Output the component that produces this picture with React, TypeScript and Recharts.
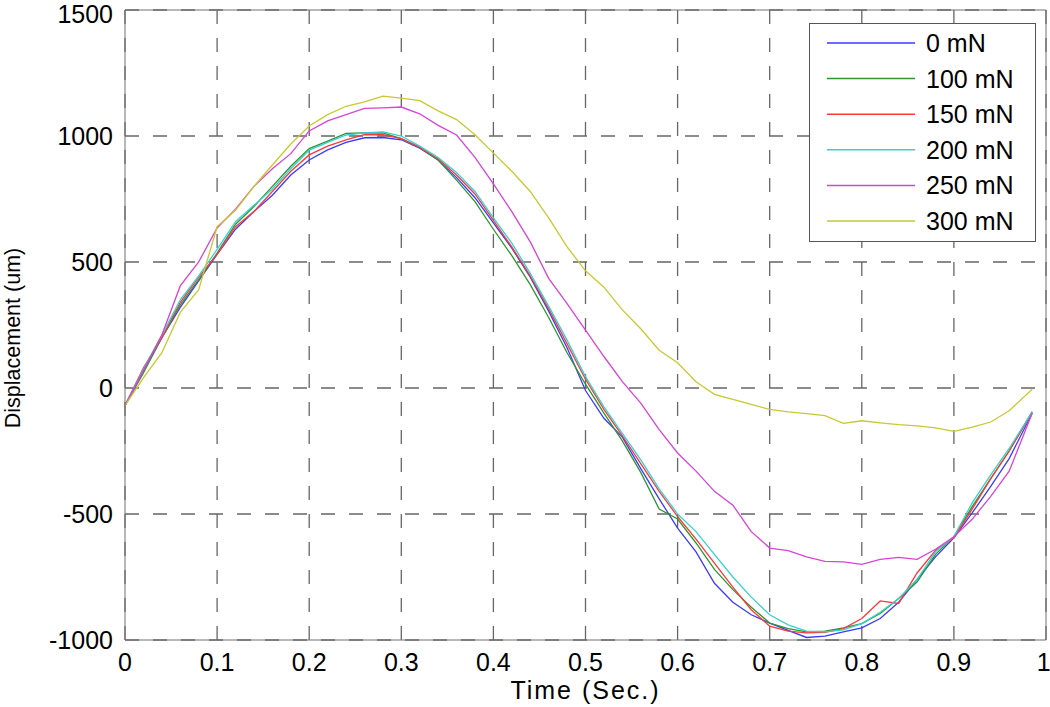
import React from "react";
import {
  LineChart,
  Line,
  XAxis,
  YAxis,
  CartesianGrid,
  ReferenceLine,
  Legend,
} from "recharts";

// sample times (s)
const times = [
  0, 0.02, 0.04, 0.06, 0.08, 0.1, 0.12, 0.14, 0.16, 0.18, 0.2, 0.22, 0.24, 0.26, 0.28, 0.3, 0.32, 0.34, 0.36, 0.38,
  0.4, 0.42, 0.44, 0.46, 0.48, 0.5, 0.52, 0.54, 0.56, 0.58, 0.6, 0.62, 0.64, 0.66, 0.68, 0.7, 0.72, 0.74, 0.76, 0.78,
  0.8, 0.82, 0.84, 0.86, 0.88, 0.9, 0.92, 0.94, 0.96, 0.985,
];

// displacement (um) per load
const d0 = [
  -70, 70, 200, 320, 425, 530, 630, 700, 765, 845, 905, 945, 975, 993, 994, 985, 952, 905, 835, 755,
  655, 555, 440, 305, 160, -10, -120, -195, -320, -440, -556, -650, -775, -850, -900, -933, -962, -990, -985, -968,
  -952, -915, -850, -760, -670, -595, -495, -390, -280, -100,
];
const d100 = [
  -70, 60, 200, 330, 430, 535, 650, 720, 800, 880, 950, 980, 1010, 1012, 1012, 990, 955, 905, 825, 740,
  630, 525, 410, 280, 140, 15, -100, -210, -335, -480, -520, -615, -720, -800, -870, -933, -955, -968, -965, -952,
  -935, -895, -835, -770, -660, -590, -470, -360, -250, -95,
];
const d150 = [
  -70, 80, 200, 340, 440, 530, 640, 700, 780, 860, 925, 960, 985, 1005, 1005, 990, 955, 910, 845, 770,
  665, 560, 445, 315, 175, 35, -85, -190, -300, -410, -510, -600, -695, -790, -880, -945, -965, -972, -970, -955,
  -915, -845, -855, -734, -645, -595, -480, -360, -250, -95,
];
const d200 = [
  -70, 75, 210, 350, 445, 550, 660, 725, 790, 870, 944, 975, 1004, 1012, 1016, 1000, 960, 915, 855, 780,
  675, 575, 455, 325, 190, 45, -75, -180, -285, -400, -500, -570, -660, -750, -830, -900, -940, -965, -968, -960,
  -935, -890, -835, -760, -650, -590, -455, -345, -240, -95,
];
const d250 = [
  -70, 70, 210, 405, 500, 635, 710, 800, 870, 930, 1020, 1060, 1085, 1110, 1112, 1115, 1088, 1042, 1004, 915,
  810, 700, 580, 435, 335, 230, 125, 25, -60, -165, -258, -330, -410, -465, -570, -635, -645, -670, -688, -690,
  -700, -680, -672, -680, -640, -590, -520, -430, -330, -100,
];
const d300 = [
  -70, 40, 140, 300, 390, 640, 705, 800, 885, 968, 1040, 1085, 1118, 1135, 1158, 1150, 1140, 1100, 1065, 1005,
  932, 860, 780, 675, 560, 465, 400, 310, 235, 150, 100, 25, -25, -45, -65, -85, -95, -102, -110, -140,
  -130, -138, -145, -150, -158, -172, -155, -135, -90, -5,
];

const xTicks = [0, 0.1, 0.2, 0.3, 0.4, 0.5, 0.6, 0.7, 0.8, 0.9, 1];
const yTicks = [-1000, -500, 0, 500, 1000, 1500];

const series = [
  { key: "d0", name: "0 mN", values: d0, color: "#3a3aff" },
  { key: "d100", name: "100 mN", values: d100, color: "#2f952f" },
  { key: "d150", name: "150 mN", values: d150, color: "#ff3838" },
  { key: "d200", name: "200 mN", values: d200, color: "#35d2d2" },
  { key: "d250", name: "250 mN", values: d250, color: "#d743d7" },
  { key: "d300", name: "300 mN", values: d300, color: "#c8c832" },
];

const data = times.map((t, i) => {
  const row: Record<string, number> = { t };
  series.forEach((s) => (row[s.key] = s.values[i]));
  return row;
});

const FONT = "'Liberation Sans', Arial, Helvetica, sans-serif";
const AXIS = "#707070";

function fmtX(v: number) {
  return v === 0 || v === 1 ? String(v) : v.toFixed(1);
}

function YTitle({ viewBox }: any) {
  const cy = viewBox.y + viewBox.height / 2 + 13;
  return (
    <text x={20} y={cy} transform={`rotate(-90, 20, ${cy})`} textAnchor="middle" fontSize={21.5} fontFamily={FONT} fill="#000">
      Displacement (um)
    </text>
  );
}

function XTitle({ viewBox }: any) {
  const cx = viewBox.x + viewBox.width / 2;
  return (
    <text x={cx} y={699} textAnchor="middle" fontSize={25} letterSpacing={2} fontFamily={FONT} fill="#000">
      Time (Sec.)
    </text>
  );
}

function LegendBox() {
  return (
    <svg width={227} height={219} style={{ display: "block" }}>
      <rect x={0.5} y={0.5} width={226} height={218} fill="#fff" stroke="#555" />
      {series.map((s, i) => {
        const y = 20 + i * 35.6;
        return (
          <g key={s.key}>
            <line x1={18} x2={106} y1={y} y2={y} stroke={s.color} strokeWidth={1.5} />
            <text x={117} y={y} dy="0.36em" fontSize={25} fontFamily={FONT} fill="#000">
              {s.name}
            </text>
          </g>
        );
      })}
    </svg>
  );
}

export default function App() {
  return (
    <div style={{ position: "absolute", left: 0, top: 0, width: 1050, height: 707, background: "#fff" }}>
      <LineChart width={1050} height={707} data={data} margin={{ top: 10, right: 4, bottom: 0, left: 0 }}>
        <CartesianGrid stroke="#666" strokeWidth={1.3} strokeDasharray="14 14" />
        <XAxis
          dataKey="t"
          type="number"
          domain={[0, 1]}
          ticks={xTicks}
          tickFormatter={fmtX}
          height={67}
          tickSize={0}
          tickMargin={13}
          stroke={AXIS}
          tick={{ fontSize: 25, fontFamily: FONT, fill: "#000" }}
          label={<XTitle />}
        />
        <YAxis
          type="number"
          domain={[-1000, 1500]}
          ticks={yTicks}
          width={125}
          tickSize={0}
          tickMargin={12}
          stroke={AXIS}
          tick={{ fontSize: 25, fontFamily: FONT, fill: "#000" }}
          label={<YTitle />}
        />
        <ReferenceLine y={1500} stroke={AXIS} />
        <ReferenceLine x={1} stroke={AXIS} />
        {series.map((s) => (
          <Line
            key={s.key}
            dataKey={s.key}
            name={s.name}
            stroke={s.color}
            strokeWidth={1.3}
            dot={false}
            type="linear"
            isAnimationActive={false}
          />
        ))}
        <Legend
          layout="vertical"
          align="center"
          verticalAlign="middle"
          content={<LegendBox />}
          wrapperStyle={{ left: 809, top: 23, right: "auto", bottom: "auto", width: 227, height: 219 }}
        />
      </LineChart>
    </div>
  );
}
